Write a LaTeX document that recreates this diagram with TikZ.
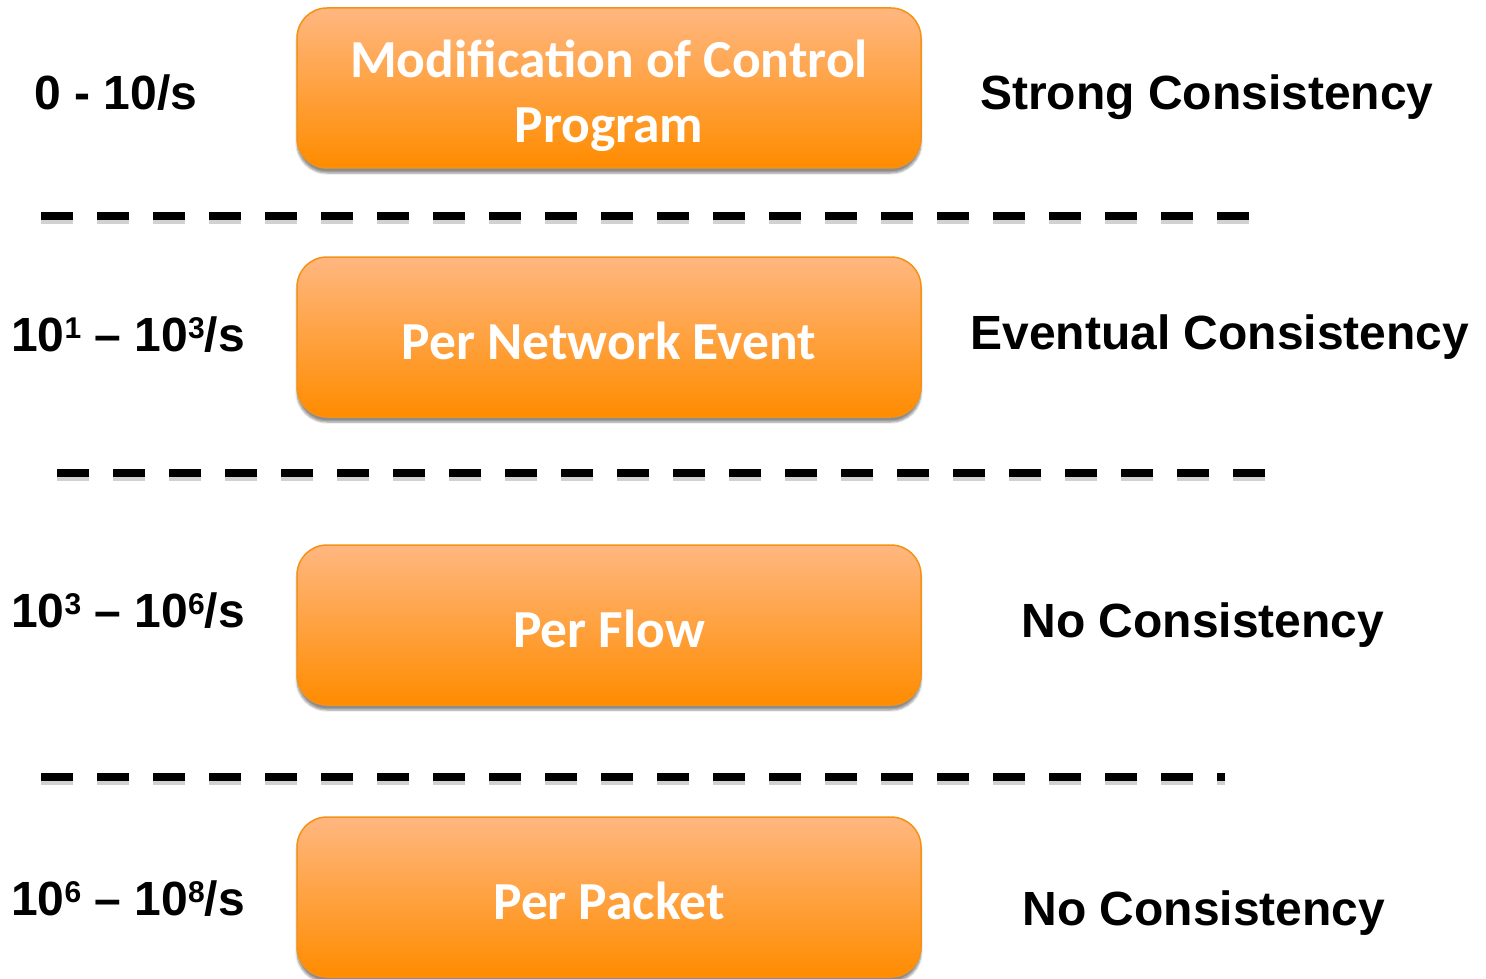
\documentclass[tikz,border=0pt]{standalone}
\usepackage{fontspec}
\setmainfont{Liberation Sans}
\newfontfamily\boxfont{Carlito}
\usetikzlibrary{shadows.blur}

\definecolor{boxtop}{RGB}{255,183,128}
\definecolor{boxbottom}{RGB}{255,140,0}
\definecolor{boxedge}{RGB}{245,145,20}

% superscript in the label font: smaller digits, top near the capitals
\newcommand{\upexp}[1]{\raisebox{13pt}{\fontsize{30}{32}\selectfont #1}}

\tikzset{
  stagebox/.style={
    rectangle, rounded corners=30pt,
    minimum width=624pt, minimum height=160pt,
    top color=boxtop, bottom color=boxbottom,
    draw=boxedge, line width=1.5pt,
    blur shadow={shadow xshift=0pt, shadow yshift=-5pt, shadow blur steps=6, shadow opacity=45}
  },
  stagetext/.style={
    text=white, align=center, inner sep=0pt,
    font=\boxfont\bfseries\fontsize{53.5}{65}\selectfont
  },
  ratelabel/.style={
    anchor=center, inner sep=0pt,
    font=\bfseries\fontsize{48}{56}\selectfont
  },
  consistlabel/.style={
    anchor=center, inner sep=0pt,
    font=\bfseries\fontsize{48}{56}\selectfont
  },
  separator/.style={line width=8pt, dash pattern=on 32pt off 24pt},
  sepshadow/.style={line width=8pt, dash pattern=on 32pt off 24pt, black, opacity=0.18}
}

\begin{document}
\begin{tikzpicture}[x=1pt,y=-1pt]
  \useasboundingbox (0,0) rectangle (1486,979);

  % separators between the rate bands
  \coordinate (s1a) at (41,216);  \coordinate (s1b) at (1249,216);
  \coordinate (s2a) at (57,473);  \coordinate (s2b) at (1265,473);
  \coordinate (s3a) at (41,777);  \coordinate (s3b) at (1225,777);
  \foreach \a/\b in {s1a/s1b, s2a/s2b, s3a/s3b}{
    \draw[sepshadow] ([yshift=-4pt]\a) -- ([yshift=-4pt]\b);
    \draw[separator] (\a) -- (\b);
  }

  % stage boxes
  \node[stagebox] (modify) at (609,88)  {};
  \node[stagebox] (event)  at (609,337) {};
  \node[stagebox] (flow)   at (609,625) {};
  \node[stagebox] (packet) at (609,897) {};

  % stage names
  \node[stagetext] (modifytxt) at ([yshift=-8pt]modify.center) {Modification of Control\\Program};
  \node[stagetext] (eventtxt)  at ([yshift=-4pt]event.center)  {Per Network Event};
  \node[stagetext] (flowtxt)   at ([yshift=-4pt]flow.center)   {Per Flow};
  \node[stagetext] (packettxt) at ([yshift=-4pt]packet.center) {Per Packet};

  % update rates
  \node[ratelabel] (r1) at (116,93)  {0 - 10/s};
  \node[ratelabel] (r2) at (128,335) {10\upexp{1} – 10\upexp{3}/s};
  \node[ratelabel] (r3) at (128,611) {10\upexp{3} – 10\upexp{6}/s};
  \node[ratelabel] (r4) at (128,899) {10\upexp{6} – 10\upexp{8}/s};

  % consistency levels
  \node[consistlabel] (c1) at (1207,97)  {Strong Consistency};
  \node[consistlabel] (c2) at (1220,337) {Eventual Consistency};
  \node[consistlabel] (c3) at (1203,625) {No Consistency};
  \node[consistlabel] (c4) at (1204,913) {No Consistency};
\end{tikzpicture}
\end{document}
